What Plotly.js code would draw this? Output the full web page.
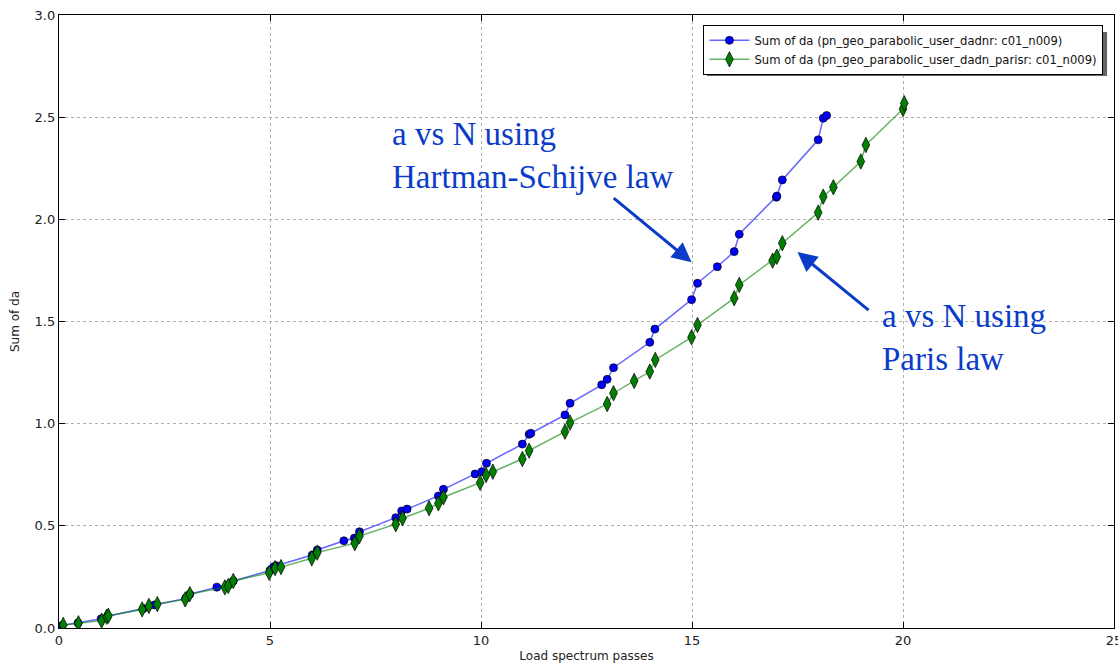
<!DOCTYPE html>
<html>
<head>
<meta charset="utf-8">
<script src="https://cdn.plot.ly/plotly-3.0.1.min.js"></script>
<style>html,body{margin:0;padding:0;background:#fff;}#chart{width:1118px;height:667px;}</style>
</head>
<body>
<div id="chart"></div>
<script>
// Series 1: Hartman-Schijve law (blue circles)
const hsPasses = [0.07,0.45,1.0,1.15,2.0,2.26,3.0,3.1,3.74,4.01,4.13,5.0,5.09,5.15,6.0,6.12,6.75,7.0,7.12,7.98,8.12,8.25,8.99,9.11,9.86,10.02,10.13,10.98,11.14,11.18,11.99,12.11,12.86,12.99,13.14,14.0,14.12,14.99,15.13,15.6,16.0,16.12,17.0,17.01,17.14,17.99,18.11,18.19];
const hsSumDa  = [0.012,0.025,0.045,0.058,0.095,0.113,0.145,0.165,0.200,0.210,0.230,0.282,0.300,0.305,0.357,0.382,0.427,0.440,0.471,0.540,0.573,0.582,0.646,0.679,0.754,0.765,0.806,0.900,0.948,0.953,1.043,1.100,1.190,1.217,1.274,1.398,1.463,1.607,1.687,1.768,1.842,1.927,2.108,2.114,2.193,2.389,2.495,2.508];
// Series 2: Paris law (green diamonds)
const parisPasses = [0.1,0.46,1.01,1.13,1.17,1.97,2.13,2.33,2.99,3.1,3.93,4.01,4.13,4.98,5.12,5.26,5.99,6.12,7.01,7.12,7.98,8.14,8.77,8.99,9.11,9.98,10.12,10.28,10.98,11.14,11.99,12.11,12.99,13.14,13.63,14.0,14.13,14.99,15.13,16.0,16.12,16.91,17.01,17.14,17.99,18.11,18.35,19.0,19.12,20.0,20.03];
const parisSumDa  = [0.015,0.023,0.036,0.055,0.060,0.091,0.108,0.117,0.140,0.166,0.199,0.206,0.230,0.270,0.293,0.298,0.341,0.369,0.415,0.450,0.508,0.537,0.586,0.610,0.640,0.711,0.749,0.765,0.827,0.868,0.961,1.005,1.096,1.149,1.209,1.255,1.312,1.423,1.483,1.614,1.679,1.798,1.817,1.883,2.033,2.111,2.157,2.283,2.364,2.540,2.568];

const seriesNames = ['Sum of da (pn_geo_parabolic_user_dadnr: c01_n009)','Sum of da (pn_geo_parabolic_user_dadn_parisr: c01_n009)'];
const xTicks = [0,5,10,15,20,25];
const yTicks = [0,0.5,1,1.5,2,2.5,3];

const traces = [
  {x: hsPasses, y: hsSumDa, name: seriesNames[0], type:'scatter', mode:'lines+markers',
   line:{color:'rgba(0,0,255,0.6)', width:1.5},
   marker:{symbol:'circle', size:8, color:'#0000ff', line:{color:'#000', width:0.7}}},
  {x: parisPasses, y: parisSumDa, name: seriesNames[1], type:'scatter', mode:'lines+markers',
   line:{color:'rgba(0,128,0,0.6)', width:1.5},
   marker:{symbol:'diamond-tall', size:11, color:'#008000', line:{color:'#000', width:0.7}}}
];

const annColor = '#0a3cc8';
const layout = {
  width:1118, height:667,
  margin:{l:59, r:4, t:15, b:39},
  paper_bgcolor:'#fff', plot_bgcolor:'#fff',
  font:{family:'DejaVu Sans, sans-serif', size:13, color:'#222'},
  showlegend:true,
  legend:{x:0.99, y:0.984, xanchor:'right', yanchor:'top', bgcolor:'#fff', bordercolor:'#000', borderwidth:1,
          font:{family:'DejaVu Sans, sans-serif', size:11.6, color:'#111'}, itemwidth:40},
  xaxis:{range:[0,25], tickvals:xTicks, ticktext:xTicks.map(String), showgrid:true, gridcolor:'#b0b0b0', griddash:'dot', gridwidth:1,
         zeroline:false, showline:true, linecolor:'#000', linewidth:1.2, mirror:'ticks', ticks:'inside', ticklen:6, tickcolor:'#000',
         ticklabeloverflow:'allow',
         tickfont:{size:13, color:'#222'}, title:{text:'Load spectrum passes', font:{size:12, color:'#222'}, standoff:4}},
  yaxis:{range:[0,3], tickvals:yTicks, ticktext:yTicks.map(v=>v.toFixed(1)), showgrid:true, gridcolor:'#b0b0b0', griddash:'dot', gridwidth:1,
         zeroline:false, showline:true, linecolor:'#000', linewidth:1.2, mirror:'ticks', ticks:'inside', ticklen:6, tickcolor:'#000',
         tickfont:{size:13, color:'#222'}, title:{text:'Sum of da', font:{size:12, color:'#222'}, standoff:12}},
  annotations:[
    {xref:'x', yref:'y', x:7.85, y:2.31, xanchor:'left', yanchor:'middle', align:'left', showarrow:false,
     text:'a vs N using<br>Hartman-Schijve law', font:{family:'Liberation Serif, serif', size:33, color:annColor}},
    {xref:'x', yref:'y', x:14.99, y:1.79, ax:13.11, ay:2.11, axref:'x', ayref:'y', showarrow:true, arrowhead:2, arrowsize:1.3, arrowwidth:3, arrowcolor:annColor, text:''},
    {xref:'x', yref:'y', x:19.45, y:1.42, xanchor:'left', yanchor:'middle', align:'left', showarrow:false,
     text:'a vs N using<br>Paris law', font:{family:'Liberation Serif, serif', size:33, color:annColor}},
    {xref:'x', yref:'y', x:17.5, y:1.84, ax:19.22, ay:1.55, axref:'x', ayref:'y', showarrow:true, arrowhead:2, arrowsize:1.3, arrowwidth:3, arrowcolor:annColor, text:''}
  ],
  // legend drop shadow
  shapes:[
    {type:'rect', xref:'paper', yref:'paper', layer:'above', x0:0.6142, x1:0.9934, y0:0.9005, y1:0.9723,
     fillcolor:'#666', line:{width:0}}
  ]
};
Plotly.newPlot('chart', traces, layout, {displayModeBar:false, staticPlot:true});
</script>
</body>
</html>
